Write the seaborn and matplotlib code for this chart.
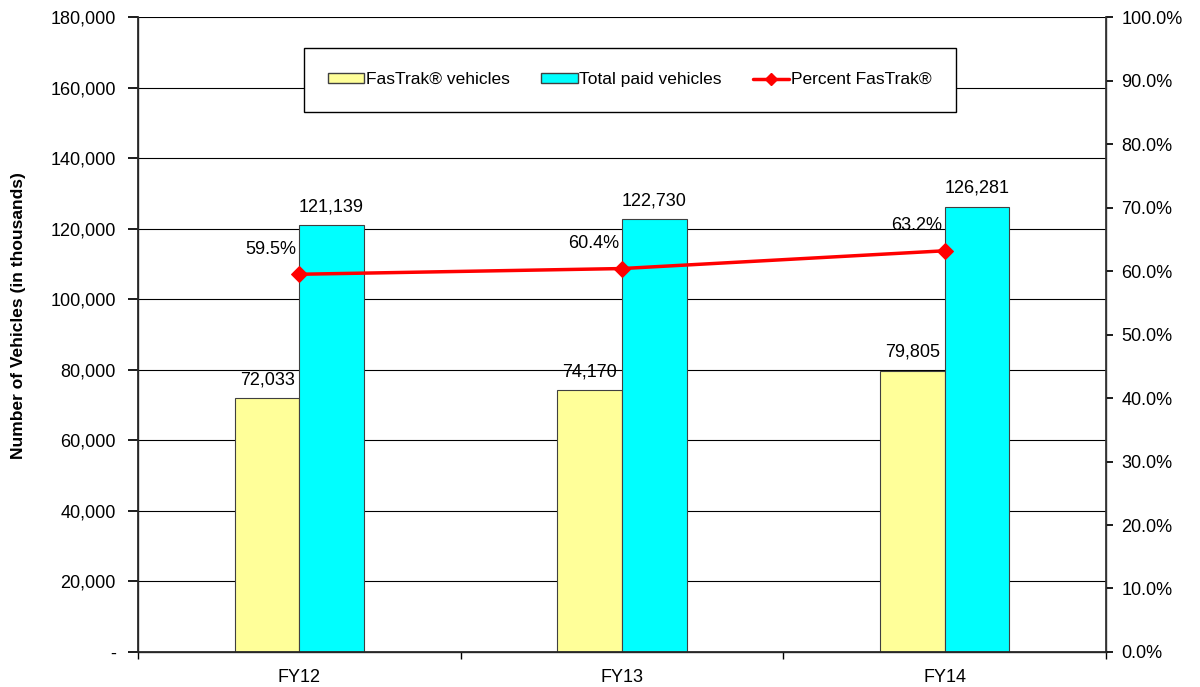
import pandas as pd
import matplotlib
matplotlib.use("Agg")
import matplotlib.pyplot as plt
import seaborn as sns
from matplotlib.ticker import FuncFormatter, MultipleLocator, FixedLocator
from matplotlib.patches import Patch
from matplotlib.lines import Line2D

# data
years = ["FY12", "FY13", "FY14"]
fastrak = [72033, 74170, 79805]
total_paid = [121139, 122730, 126281]
pct_fastrak = [0.595, 0.604, 0.632]

sns.set_theme(style="white")
plt.rcParams['font.family'] = ['Liberation Sans', 'DejaVu Sans']
plt.rcParams['text.color'] = 'black'
plt.rcParams['axes.labelcolor'] = 'black'
plt.rcParams['xtick.color'] = 'black'
plt.rcParams['ytick.color'] = 'black'

# long table for the bars
df = pd.DataFrame({
    "year": years * 2,
    "vehicles": fastrak + total_paid,
    "series": ["FasTrak® vehicles"] * 3 + ["Total paid vehicles"] * 3,
})

fig, ax = plt.subplots(figsize=(12, 6.87), dpi=100)
fig.subplots_adjust(left=0.115, right=0.9217, top=0.975, bottom=0.051)

sns.barplot(data=df, x="year", y="vehicles", hue="series",
            palette=["#FFFF99", "#00FFFF"], width=0.4, dodge=True,
            edgecolor="#404040", linewidth=0.8, saturation=1, ax=ax)

ax.set_xlim(-0.5, 2.5)
ax.set_ylim(0, 180000)
ax.yaxis.set_major_locator(MultipleLocator(20000))
ax.yaxis.set_major_formatter(FuncFormatter(lambda v, p: "-" if v == 0 else f"{v:,.0f}"))
ax.set_axisbelow(True)
ax.grid(axis="y", color="black", linewidth=0.8)
ax.set_xlabel("")
ax.set_ylabel("Number of Vehicles (in thousands)", fontsize=12.5, fontweight="bold")
ax.yaxis.set_label_coords(-0.116, 0.53)
ax.tick_params(axis="y", labelsize=13, length=7, pad=9, direction="out", left=True, color="black")
ax.tick_params(axis="x", which="major", length=0, labelsize=13, pad=12)
ax.xaxis.set_minor_locator(FixedLocator([-0.5, 0.5, 1.5, 2.5]))
ax.tick_params(axis="x", which="minor", length=5, direction="out", bottom=True, color="black")
for s in ["left", "bottom", "right"]:
    ax.spines[s].set_color("#333333")
    ax.spines[s].set_linewidth(1)
ax.spines["top"].set_visible(False)
ax.legend_.remove()

# value labels above bars
for cont in ax.containers:
    ax.bar_label(cont, labels=[f"{v:,.0f}" for v in cont.datavalues],
                 padding=7, fontsize=13)

# percent line on right axis
ax2 = ax.twinx()
sns.lineplot(x=[0, 1, 2], y=pct_fastrak, color="#FF0000", linewidth=2.5,
             marker="D", markersize=8, markeredgecolor="#FF0000", ax=ax2)
ax2.set_ylim(0, 1)
ax2.yaxis.set_major_locator(MultipleLocator(0.1))
ax2.yaxis.set_major_formatter(FuncFormatter(lambda v, p: f"{v:.1%}"))
ax2.tick_params(axis="y", labelsize=13, length=5, pad=6, direction="out", right=True, color="black")
ax2.spines["top"].set_visible(False)
ax2.spines["right"].set_color("#333333")
ax2.grid(False)
for i, v in enumerate(pct_fastrak):
    ax2.annotate(f"{v:.1%}", (i, v), xytext=(-2, 12), textcoords="offset points",
                 ha="right", va="bottom", fontsize=13)

handles = [
    Patch(facecolor="#FFFF99", edgecolor="#404040", label="FasTrak® vehicles"),
    Patch(facecolor="#00FFFF", edgecolor="#404040", label="Total paid vehicles"),
    Line2D([0], [0], color="#FF0000", linewidth=2.5, marker="D", markersize=6,
           label="Percent FasTrak®"),
]
leg = ax2.legend(handles=handles, loc="center", bbox_to_anchor=(0.162, 0.849, 0.692, 0.105),
                 mode="expand", ncol=3, fontsize=12.5, frameon=True, fancybox=False,
                 framealpha=1, borderpad=1.4, handlelength=2.1, handletextpad=0.1,
                 columnspacing=1.4, handleheight=0.5)
leg.get_frame().set_edgecolor("black")
leg.get_frame().set_linewidth(1)

plt.savefig("out.png", dpi=100)
